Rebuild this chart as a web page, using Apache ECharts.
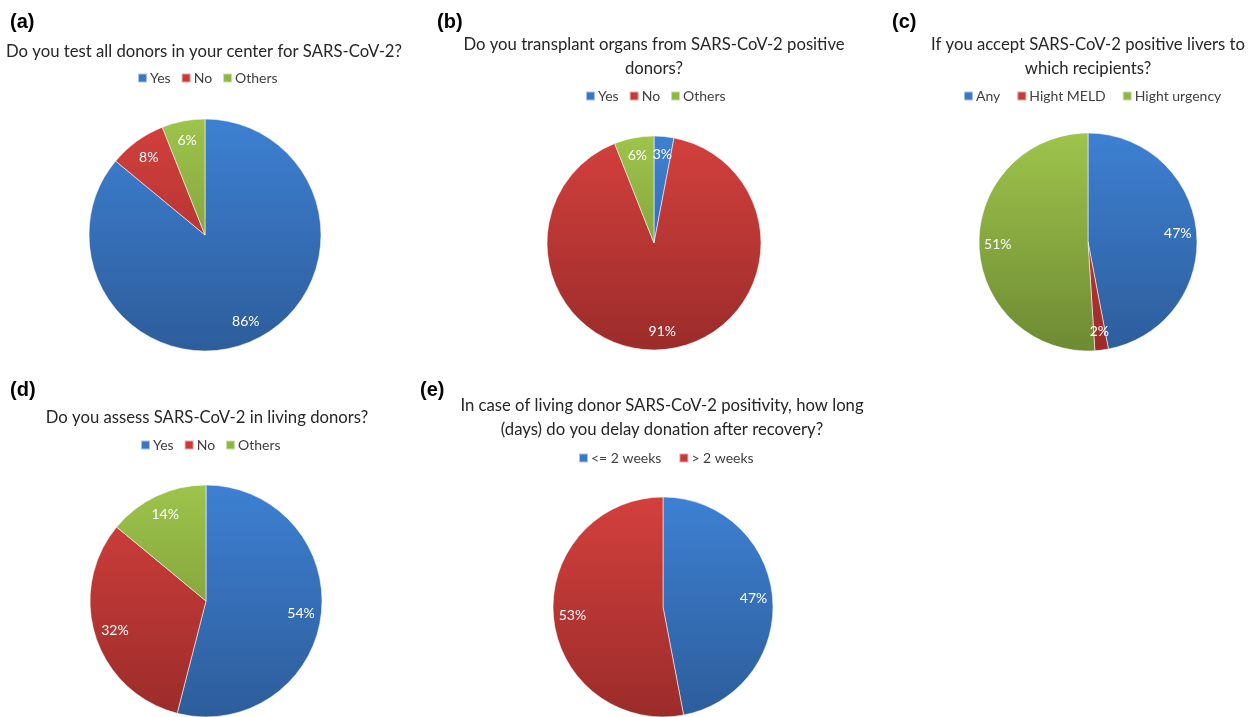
<!DOCTYPE html>
<html>
<head>
<meta charset="utf-8">
<script src="https://cdn.jsdelivr.net/npm/echarts@6/dist/echarts.min.js"></script>
<style>
  html, body { margin: 0; padding: 0; background: #fff; }
  #chart { width: 1256px; height: 717px; }
</style>
</head>
<body>
<div id="chart"></div>
<script>
// Survey answers, in percent
const catsA = ['Yes', 'No', 'Others'];
const valsA = [86, 8, 6];
const catsB = ['Yes', 'No', 'Others'];
const valsB = [3, 91, 6];
const catsC = ['Any', 'Hight MELD', 'Hight urgency'];
const valsC = [47, 2, 51];
const catsD = ['Yes', 'No', 'Others'];
const valsD = [54, 32, 14];
const catsE = ['<= 2 weeks', '> 2 weeks'];
const valsE = [47, 53];

const FONT = 'Lato, "Open Sans", sans-serif';

// colour ramps (top -> bottom of each pie)
const ramps = {
  blue:  ['#3d80d2', '#2d5d9b'],
  red:   ['#d3403d', '#9b2c2a'],
  green: ['#9ec44b', '#6e8a33']
};
const legendColor = { blue: '#3a78c6', red: '#c83a38', green: '#8db842' };

const panels = [
  { tag: '(a)', tagX: 10, tagY: 22, title: ['Do you test all donors in your center for SARS-CoV-2?'], titleX: 204, titleY: 52,
    legendX: 137, legendY: 79, gap: 10, cats: catsA, vals: valsA, colors: ['blue', 'red', 'green'], cx: 205, cy: 235, r: 116 },
  { tag: '(b)', tagX: 437, tagY: 22, title: ['Do you transplant organs from SARS-CoV-2 positive', 'donors?'], titleX: 654, titleY: 45,
    legendX: 585, legendY: 97, gap: 10, cats: catsB, vals: valsB, colors: ['blue', 'red', 'green'], cx: 654, cy: 243, r: 107 },
  { tag: '(c)', tagX: 892, tagY: 22, title: ['If you accept SARS-CoV-2 positive livers to', 'which recipients?'], titleX: 1088, titleY: 45,
    legendX: 963, legendY: 97, gap: 16, cats: catsC, vals: valsC, colors: ['blue', 'red', 'green'], cx: 1088, cy: 242, r: 109 },
  { tag: '(d)', tagX: 10, tagY: 390, title: ['Do you assess SARS-CoV-2 in living donors?'], titleX: 207, titleY: 418,
    legendX: 140, legendY: 446, gap: 10, cats: catsD, vals: valsD, colors: ['blue', 'red', 'green'], cx: 206, cy: 601, r: 116 },
  { tag: '(e)', tagX: 420, tagY: 390, title: ['In case of living donor SARS-CoV-2 positivity, how long', '(days) do you delay donation after recovery?'], titleX: 662, titleY: 406,
    legendX: 578, legendY: 459, gap: 17, cats: catsE, vals: valsE, colors: ['blue', 'red'], cx: 663, cy: 607, r: 110 }
];

function fill(p, key) {
  return {
    type: 'linear', global: true,
    x: 0, y: p.cy - p.r, x2: 0, y2: p.cy + p.r,
    colorStops: [{ offset: 0, color: ramps[key][0] }, { offset: 1, color: ramps[key][1] }]
  };
}

const graphics = [];
const legends = [];
const series = [];

panels.forEach(p => {
  graphics.push({
    type: 'text', x: p.tagX, y: p.tagY,
    style: { text: p.tag, font: 'bold 20px "Liberation Sans", Arial, sans-serif', fill: '#000', textVerticalAlign: 'middle' }
  });
  p.title.forEach((line, i) => {
    graphics.push({
      type: 'text', x: p.titleX, y: p.titleY + i * 24,
      style: { text: line, font: '16.7px ' + FONT, fill: '#262626', textAlign: 'center', textVerticalAlign: 'middle' }
    });
  });
  legends.push({
    left: p.legendX, top: p.legendY - 8, orient: 'horizontal', padding: 0,
    itemWidth: 9, itemHeight: 9, itemGap: p.gap, icon: 'rect',
    selectedMode: false,
    textStyle: { fontFamily: FONT, fontSize: 14, color: '#404040', padding: [0, 0, 0, -2] },
    data: p.cats.map((c, i) => ({ name: c, itemStyle: { color: legendColor[p.colors[i]] } }))
  });
  const data = p.cats.map((c, i) => ({ name: c, value: p.vals[i], itemStyle: { color: fill(p, p.colors[i]) } }));
  series.push({
    type: 'pie', center: [p.cx, p.cy], radius: [0, p.r], startAngle: 90, clockwise: true,
    silent: true, animation: false,
    itemStyle: { borderColor: 'rgba(255,255,255,0.55)', borderWidth: 1 },
    label: { show: false }, labelLine: { show: false },
    emphasis: { disabled: true },
    data: data
  });
  // transparent ring that carries the percentage labels near the rim
  series.push({
    type: 'pie', center: [p.cx, p.cy], radius: [p.r * 0.6, p.r], startAngle: 90, clockwise: true,
    silent: true, animation: false,
    itemStyle: { color: 'rgba(0,0,0,0)', borderWidth: 0 },
    label: { show: true, position: 'inside', formatter: '{c}%', color: '#fff', fontFamily: FONT, fontSize: 14 },
    labelLine: { show: false },
    emphasis: { disabled: true },
    data: p.cats.map((c, i) => ({ name: c, value: p.vals[i] }))
  });
});

const chart = echarts.init(document.getElementById('chart'), null, { renderer: 'canvas' });
chart.setOption({
  backgroundColor: '#fff',
  animation: false,
  legend: legends,
  graphic: graphics,
  series: series
});
</script>
</body>
</html>
